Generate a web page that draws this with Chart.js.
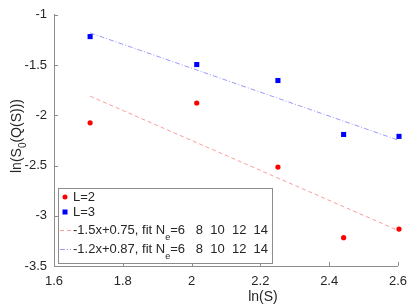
<!DOCTYPE html>
<html>
<head>
<meta charset="utf-8">
<script src="https://cdn.jsdelivr.net/npm/chart.js@4/dist/chart.umd.min.js"></script>
<style>
  html, body { margin: 0; padding: 0; background: #fff; }
  #wrap { width: 415px; height: 308px; }
</style>
</head>
<body>
<div id="wrap"><canvas id="fitChart" width="415" height="308"></canvas></div>
<script>
// ln(S) positions of the five system sizes (N_e = 6, 8, 10, 12, 14)
const lnS = [1.705, 2.015, 2.251, 2.442, 2.603];
const valuesL2 = [-2.075, -1.878, -2.515, -3.218, -3.133];
const valuesL3 = [-1.217, -1.495, -1.654, -2.191, -2.210];

// fit lines, end points only
const fitX = [1.705, 2.603];
const fitL2 = [-1.81, -3.15];
const fitL3 = [-1.18, -2.25];

const xTicks = [1.6, 1.8, 2, 2.2, 2.4, 2.6];
const yTicks = [-1, -1.5, -2, -2.5, -3, -3.5];

const legendLabels = ["L=2", "L=3", "-1.5x+0.75, fit N", "-1.2x+0.87, fit N"];
const legendTail = "=6   8  10  12  14";

const FONT = "'Liberation Sans', Arial, sans-serif";
const AXIS_COLOR = "#8c8c8c";
const TEXT_COLOR = "#262626";

function pts(xs, ys) {
  return xs.map((x, i) => ({ x: x, y: ys[i] }));
}

// inward ticks, axis titles and the boxed legend (MATLAB look)
const decorPlugin = {
  id: "decor",
  afterDraw(chart) {
    const ctx = chart.ctx;
    const area = chart.chartArea;
    const xs = chart.scales.x;
    const ys = chart.scales.y;

    ctx.save();
    ctx.strokeStyle = AXIS_COLOR;
    ctx.lineWidth = 1;
    ctx.beginPath();
    xTicks.forEach(v => {
      const px = Math.round(xs.getPixelForValue(v)) + 0.5;
      ctx.moveTo(px, area.bottom);
      ctx.lineTo(px, area.bottom - 4);
    });
    yTicks.forEach(v => {
      const py = Math.round(ys.getPixelForValue(v)) + 0.5;
      ctx.moveTo(area.left, py);
      ctx.lineTo(area.left + 4, py);
    });
    ctx.stroke();

    // x title
    ctx.fillStyle = TEXT_COLOR;
    ctx.font = "14px " + FONT;
    ctx.textAlign = "center";
    ctx.textBaseline = "middle";
    ctx.fillText("ln(S)", 263, 297);

    // y title with subscript 0
    ctx.translate(17, 136);
    ctx.rotate(-Math.PI / 2);
    const a = "ln(S", b = "0", c = "(Q(S)))";
    ctx.font = "14px " + FONT;
    const wa = ctx.measureText(a).width;
    const wc = ctx.measureText(c).width;
    ctx.font = "10px " + FONT;
    const wb = ctx.measureText(b).width;
    let sx = -(wa + wb + wc) / 2;
    ctx.textAlign = "left";
    ctx.font = "14px " + FONT;
    ctx.fillText(a, sx, 0);
    ctx.font = "10px " + FONT;
    ctx.fillText(b, sx + wa, 6);
    ctx.font = "14px " + FONT;
    ctx.fillText(c, sx + wa + wb, 0);
    ctx.restore();

    // legend
    ctx.save();
    const bx = 58.5, by = 188.5, bw = 214, bh = 75;
    ctx.fillStyle = "#fff";
    ctx.fillRect(bx, by, bw, bh);
    ctx.strokeStyle = AXIS_COLOR;
    ctx.lineWidth = 1;
    ctx.strokeRect(bx, by, bw, bh);

    const rowsY = [197, 212, 230, 249];
    ctx.fillStyle = "#ff0000";
    ctx.beginPath();
    ctx.arc(65, rowsY[0], 2.5, 0, Math.PI * 2);
    ctx.fill();
    ctx.fillStyle = "#0000ff";
    ctx.fillRect(62.5, rowsY[1] - 2.5, 5, 5);

    ctx.lineWidth = 1;
    ctx.strokeStyle = "#ff9a9a";
    ctx.setLineDash([4, 3]);
    ctx.beginPath();
    ctx.moveTo(60, rowsY[2] + 0.5);
    ctx.lineTo(71, rowsY[2] + 0.5);
    ctx.stroke();
    ctx.strokeStyle = "#9a9aff";
    ctx.setLineDash([5, 2, 1, 2]);
    ctx.beginPath();
    ctx.moveTo(60, rowsY[3] + 0.5);
    ctx.lineTo(71, rowsY[3] + 0.5);
    ctx.stroke();
    ctx.setLineDash([]);

    ctx.fillStyle = TEXT_COLOR;
    ctx.textAlign = "left";
    ctx.textBaseline = "middle";
    legendLabels.forEach((label, i) => {
      ctx.font = "13px " + FONT;
      ctx.fillText(label, 73, rowsY[i]);
      if (i >= 2) {
        const w = ctx.measureText(label).width;
        ctx.font = "9px " + FONT;
        ctx.fillText("e", 73 + w, rowsY[i] + 8);
        const we = ctx.measureText("e").width;
        ctx.font = "13px " + FONT;
        ctx.fillText(legendTail, 73 + w + we, rowsY[i]);
      }
    });
    ctx.restore();
  }
};

new Chart(document.getElementById("fitChart").getContext("2d"), {
  type: "scatter",
  data: {
    datasets: [
      {
        label: "L=2",
        data: pts(lnS, valuesL2),
        pointStyle: "circle",
        pointRadius: 2.6,
        backgroundColor: "#ff0000",
        borderWidth: 0,
        clip: false
      },
      {
        label: "L=3",
        data: pts(lnS, valuesL3),
        pointStyle: "rect",
        pointRadius: 3.6,
        backgroundColor: "#0000ff",
        borderWidth: 0,
        clip: false
      },
      {
        label: "fit L=2",
        type: "line",
        data: pts(fitX, fitL2),
        borderColor: "#ff9a9a",
        borderWidth: 1,
        borderDash: [4, 3],
        pointRadius: 0,
        fill: false,
        clip: false
      },
      {
        label: "fit L=3",
        type: "line",
        data: pts(fitX, fitL3),
        borderColor: "#9a9aff",
        borderWidth: 1,
        borderDash: [5, 2, 1, 2],
        pointRadius: 0,
        fill: false,
        clip: false
      }
    ]
  },
  options: {
    responsive: false,
    animation: false,
    layout: { padding: { top: 7, right: 10, left: 0, bottom: 0 } },
    plugins: {
      legend: { display: false },
      tooltip: { enabled: false }
    },
    scales: {
      x: {
        type: "linear",
        min: 1.6,
        max: 2.6,
        afterBuildTicks: s => { s.ticks = xTicks.map(v => ({ value: v })); },
        afterFit: s => { s.height = 42; },
        grid: { drawOnChartArea: false, drawTicks: false },
        border: { color: AXIS_COLOR, width: 1 },
        ticks: {
          padding: 8,
          color: TEXT_COLOR,
          font: { family: FONT, size: 13 },
          maxRotation: 0,
          callback: v => String(Math.round(v * 10) / 10)
        }
      },
      y: {
        type: "linear",
        min: -3.5,
        max: -1,
        afterBuildTicks: s => { s.ticks = yTicks.map(v => ({ value: v })); },
        afterFit: s => { s.width = 54; },
        grid: { drawOnChartArea: false, drawTicks: false },
        border: { color: AXIS_COLOR, width: 1 },
        ticks: {
          padding: 7,
          color: TEXT_COLOR,
          font: { family: FONT, size: 13 },
          callback: v => String(Math.round(v * 10) / 10)
        }
      }
    }
  },
  plugins: [decorPlugin]
});
</script>
</body>
</html>
